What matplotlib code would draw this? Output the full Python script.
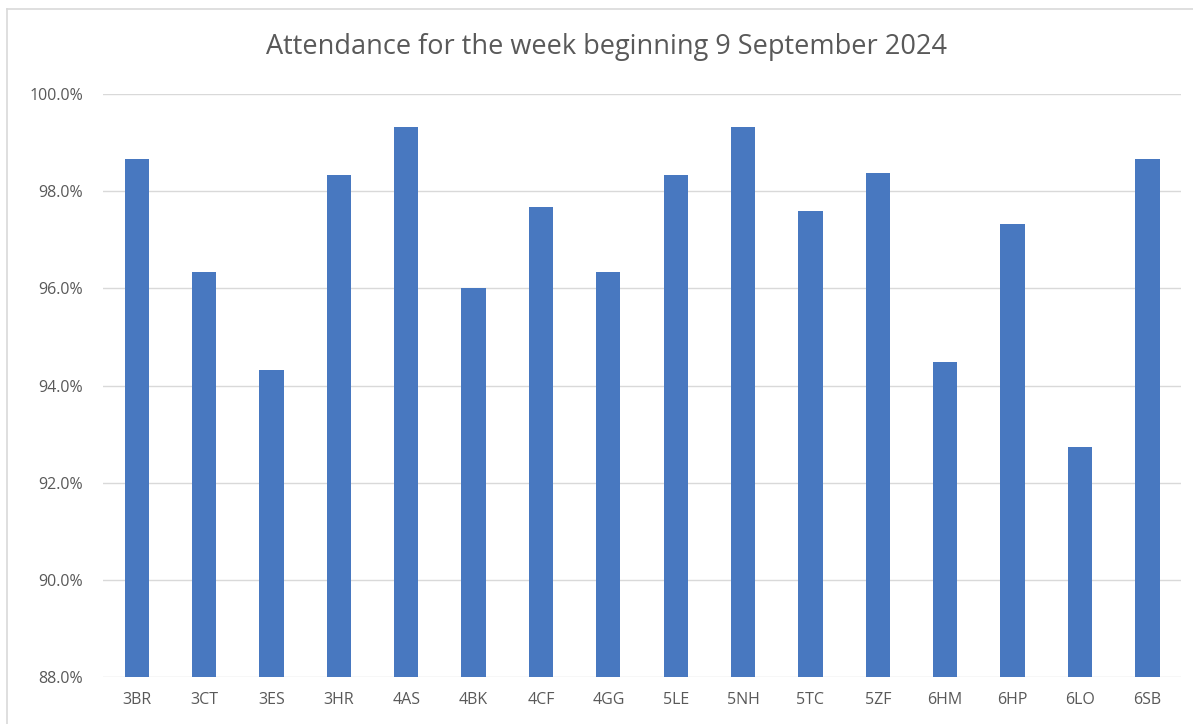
import matplotlib
matplotlib.use("Agg")
import matplotlib.pyplot as plt
from matplotlib.lines import Line2D
from matplotlib.ticker import FuncFormatter, MultipleLocator

classes = ["3BR", "3CT", "3ES", "3HR", "4AS", "4BK", "4CF", "4GG",
           "5LE", "5NH", "5TC", "5ZF", "6HM", "6HP", "6LO", "6SB"]
attendance = [98.67, 96.33, 94.33, 98.33, 99.33, 96.0, 97.67, 96.33,
              98.33, 99.33, 97.6, 98.38, 94.49, 97.33, 92.74, 98.67]

plt.rcParams["font.family"] = ["Open Sans", "DejaVu Sans"]

fig = plt.figure(figsize=(11.93, 7.24), dpi=100)
ax = fig.add_axes([0.0863, 0.065, 0.9037, 0.805])

x = range(len(classes))
ax.bar(x, attendance, width=0.36, color="#4878C0", zorder=3)

ax.set_xlim(-0.5, len(classes) - 0.5)
ax.set_ylim(88, 100)
ax.yaxis.set_major_locator(MultipleLocator(2))
ax.yaxis.set_major_formatter(FuncFormatter(lambda v, _: f"{v:.1f}%"))
ax.set_xticks(list(x), classes)

ax.grid(axis="y", color="#D9D9D9", linewidth=1, zorder=0)
for s in ax.spines.values():
    s.set_visible(False)
ax.tick_params(axis="both", length=0, labelsize=11.5, labelcolor="#595959")
ax.tick_params(axis="y", pad=14.5)
ax.tick_params(axis="x", pad=11)

fig.text(0.508, 0.935, "Attendance for the week beginning 9 September 2024",
         ha="center", va="center", fontsize=19.5, color="#595959")

# chart area border
fig.add_artist(Line2D([0.006, 0.006], [0.0, 0.987], color="#D9D9D9", lw=1.2,
                      transform=fig.transFigure))
fig.add_artist(Line2D([0.006, 1.0], [0.987, 0.987], color="#D9D9D9", lw=1.2,
                      transform=fig.transFigure))

fig.savefig("out.png", dpi=100)
